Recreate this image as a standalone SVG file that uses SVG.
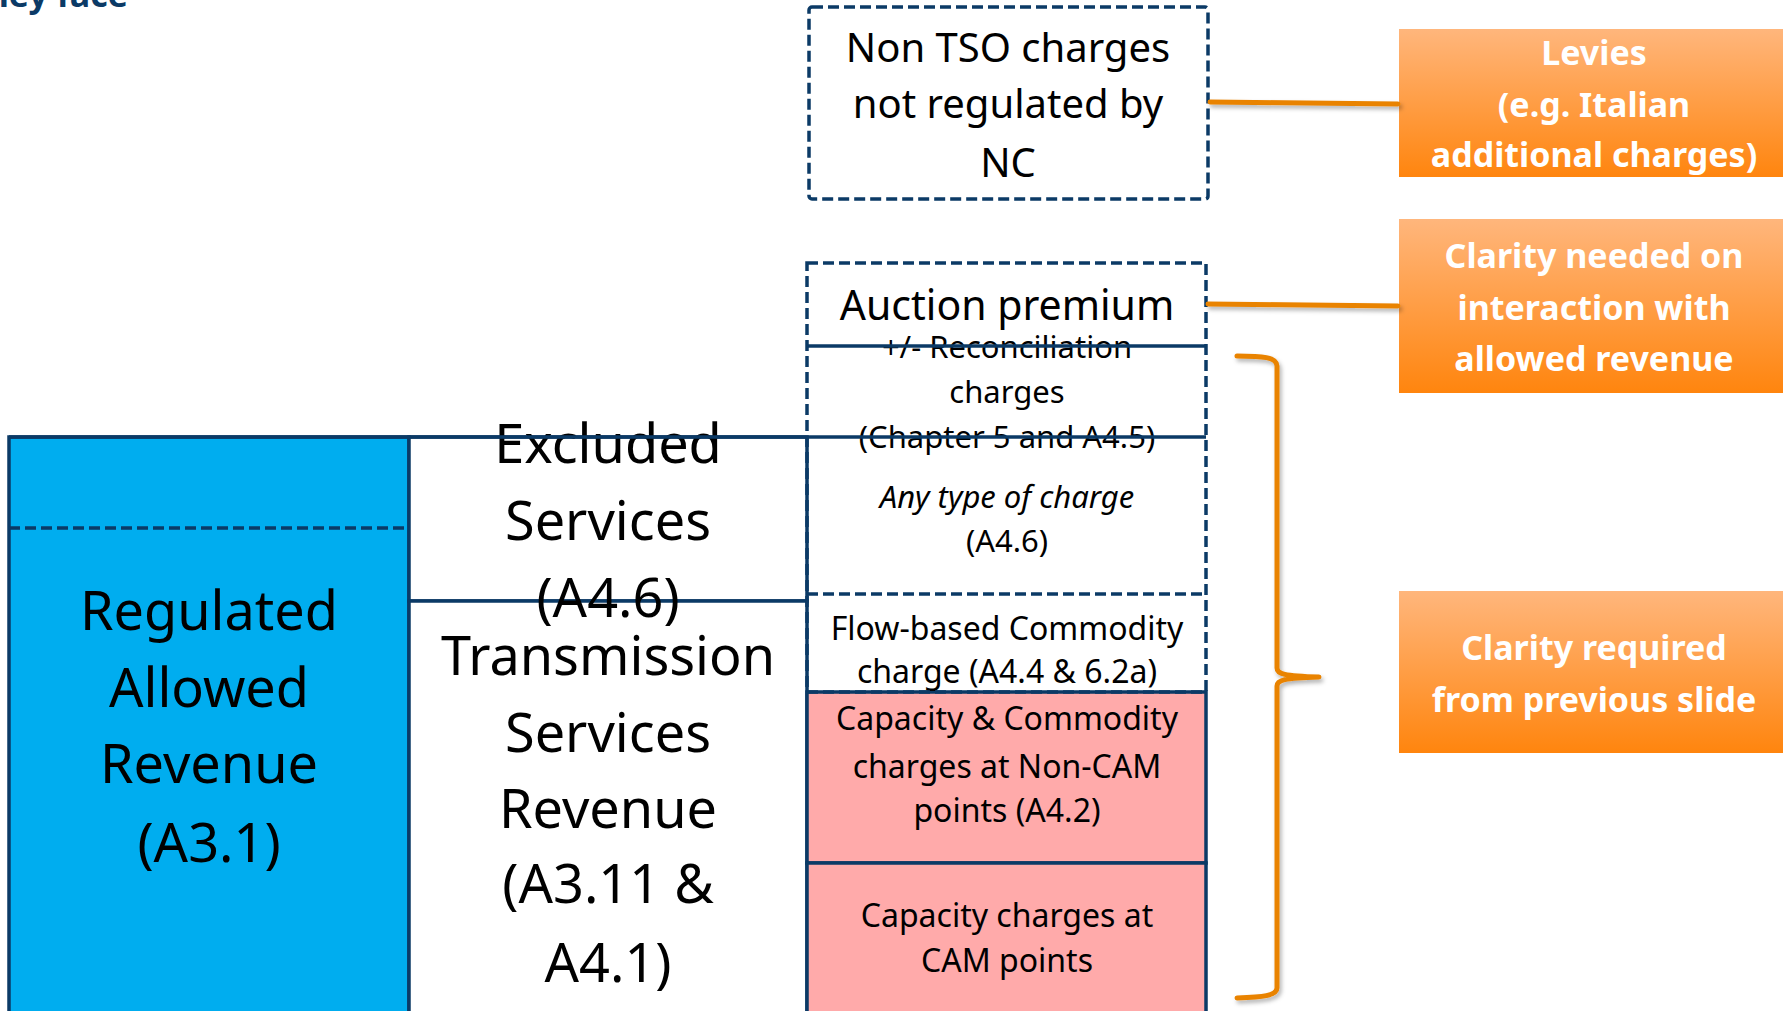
<svg xmlns="http://www.w3.org/2000/svg" width="1783" height="1011" viewBox="0 0 1783 1011">
<defs>
<linearGradient id="og" x1="0" y1="0" x2="0" y2="1">
<stop offset="0" stop-color="#ffb67c"/>
<stop offset="1" stop-color="#ff850e"/>
</linearGradient>
<filter id="sh" x="-10%" y="-50%" width="120%" height="200%">
<feDropShadow dx="2" dy="3" stdDeviation="2" flood-color="#000" flood-opacity="0.3"/>
</filter>
<style>
.t{font-family:"Noto Sans","Open Sans",sans-serif;fill:#000;text-anchor:middle}
.big{font-size:54px}
.mid{font-size:41px}
.sm{font-size:31px}
.sm2{font-size:32px}
.w{font-family:"Noto Sans","Open Sans",sans-serif;font-weight:bold;fill:#fff;text-anchor:middle;font-size:34px}
.solid{fill:none;stroke:#0b3a66;stroke-width:3.5}
.dash{fill:none;stroke:#0b3a66;stroke-width:3.5;stroke-dasharray:11 5}
.blue{fill:#00adef;stroke:#0b3a66;stroke-width:3.5}
.white{fill:#fff;stroke:#0b3a66;stroke-width:3.5}
.pink{fill:#ffaaaa;stroke:#0b3a66;stroke-width:3.5}
.conn{fill:none;stroke:#e98300;stroke-width:5;stroke-linecap:round;stroke-linejoin:round}
</style>
</defs>
<rect width="1783" height="1011" fill="#fff"/>
<text x="128" y="7" font-family="Noto Sans,Open Sans,sans-serif" font-weight="bold" font-size="34" fill="#0b3a66" text-anchor="end">they face</text>

<g id="regulated-allowed-revenue">
<rect x="9" y="437" width="400" height="590" class="blue"/>
<line x1="9" y1="528" x2="409" y2="528" class="dash"/>
<text class="t big" x="209" y="630">Regulated</text>
<text class="t big" x="209" y="707">Allowed</text>
<text class="t big" x="209" y="783">Revenue</text>
<text class="t big" x="209" y="862">(A3.1)</text>
</g>

<g id="excluded-services">
<rect x="409" y="437" width="398" height="164" class="white"/>
</g>
<g id="transmission-services-revenue">
<rect x="409" y="601" width="398" height="430" class="white"/>
</g>
<g id="middle-labels">
<text class="t big" x="608" y="463">Excluded</text>
<text class="t big" x="608" y="540">Services</text>
<text class="t big" x="608" y="617">(A4.6)</text>
<text class="t big" x="608" y="675">Transmission</text>
<text class="t big" x="608" y="752">Services</text>
<text class="t big" x="608" y="828">Revenue</text>
<text class="t big" x="608" y="903">(A3.11 &amp;</text>
<text class="t big" x="608" y="982">A4.1)</text>
</g>

<g id="non-tso-charges">
<rect x="809" y="7" width="399" height="192" rx="3" class="dash"/>
<text class="t" font-size="40" x="1008" y="62">Non TSO charges</text>
<text class="t" font-size="40" x="1008" y="118">not regulated by</text>
<text class="t" font-size="40" x="1008" y="177">NC</text>
</g>

<g id="capacity-commodity-non-cam">
<rect x="807" y="692" width="399" height="171" class="pink"/>
<text class="t sm2" x="1007" y="730">Capacity &amp; Commodity</text>
<text class="t sm2" x="1007" y="778">charges at Non-CAM</text>
<text class="t sm2" x="1007" y="822">points (A4.2)</text>
</g>
<g id="capacity-cam">
<rect x="807" y="863" width="399" height="170" class="pink"/>
<text class="t sm2" x="1007" y="927">Capacity charges at</text>
<text class="t sm2" x="1007" y="972">CAM points</text>
</g>

<g id="auction-premium">
<text class="t mid" x="1007" y="320">Auction premium</text>
</g>
<g id="reconciliation-charges">
<text class="t sm" x="1007" y="358">+/- Reconciliation</text>
<text class="t sm" x="1007" y="403">charges</text>
<text class="t sm" x="1007" y="448">(Chapter 5 and A4.5)</text>
</g>
<g id="any-type-of-charge">
<text class="t sm" x="1007" y="508" font-style="italic">Any type of charge</text>
<text class="t sm" x="1007" y="552">(A4.6)</text>
</g>
<g id="flow-based-commodity">
<text class="t sm2" x="1007" y="640">Flow-based Commodity</text>
<text class="t sm2" x="1007" y="683">charge (A4.4 &amp; 6.2a)</text>
</g>
<g id="dashed-column">
<rect x="807" y="263" width="399" height="429" class="dash"/>
<line x1="807" y1="346" x2="1206" y2="346" class="solid"/>
<line x1="9" y1="437" x2="1206" y2="437" class="solid"/>
<line x1="807" y1="594" x2="1206" y2="594" class="dash"/>
</g>

<g id="levies">
<rect x="1399" y="29" width="400" height="148" fill="url(#og)"/>
<text class="w" x="1594" y="65">Levies</text>
<text class="w" x="1594" y="117">(e.g. Italian</text>
<text class="w" x="1594" y="167">additional charges)</text>
</g>
<g id="clarity-needed">
<rect x="1399" y="219" width="400" height="174" fill="url(#og)"/>
<text class="w" x="1594" y="268">Clarity needed on</text>
<text class="w" x="1594" y="320">interaction with</text>
<text class="w" x="1594" y="371">allowed revenue</text>
</g>
<g id="clarity-required">
<rect x="1399" y="591" width="400" height="162" fill="url(#og)"/>
<text class="w" x="1594" y="660">Clarity required</text>
<text class="w" x="1594" y="712">from previous slide</text>
</g>

<g id="connectors" filter="url(#sh)">
<path class="conn" d="M1210 102 L1398 104"/>
<path class="conn" d="M1208 304 L1398 306"/>
<path class="conn" d="M1237 356 C1262 356 1277 357 1277 366 L1277 668 C1277 674 1284 676 1319 677 C1284 678 1277 680 1277 686 L1277 988 C1277 996 1262 997 1237 998"/>
</g>
</svg>
